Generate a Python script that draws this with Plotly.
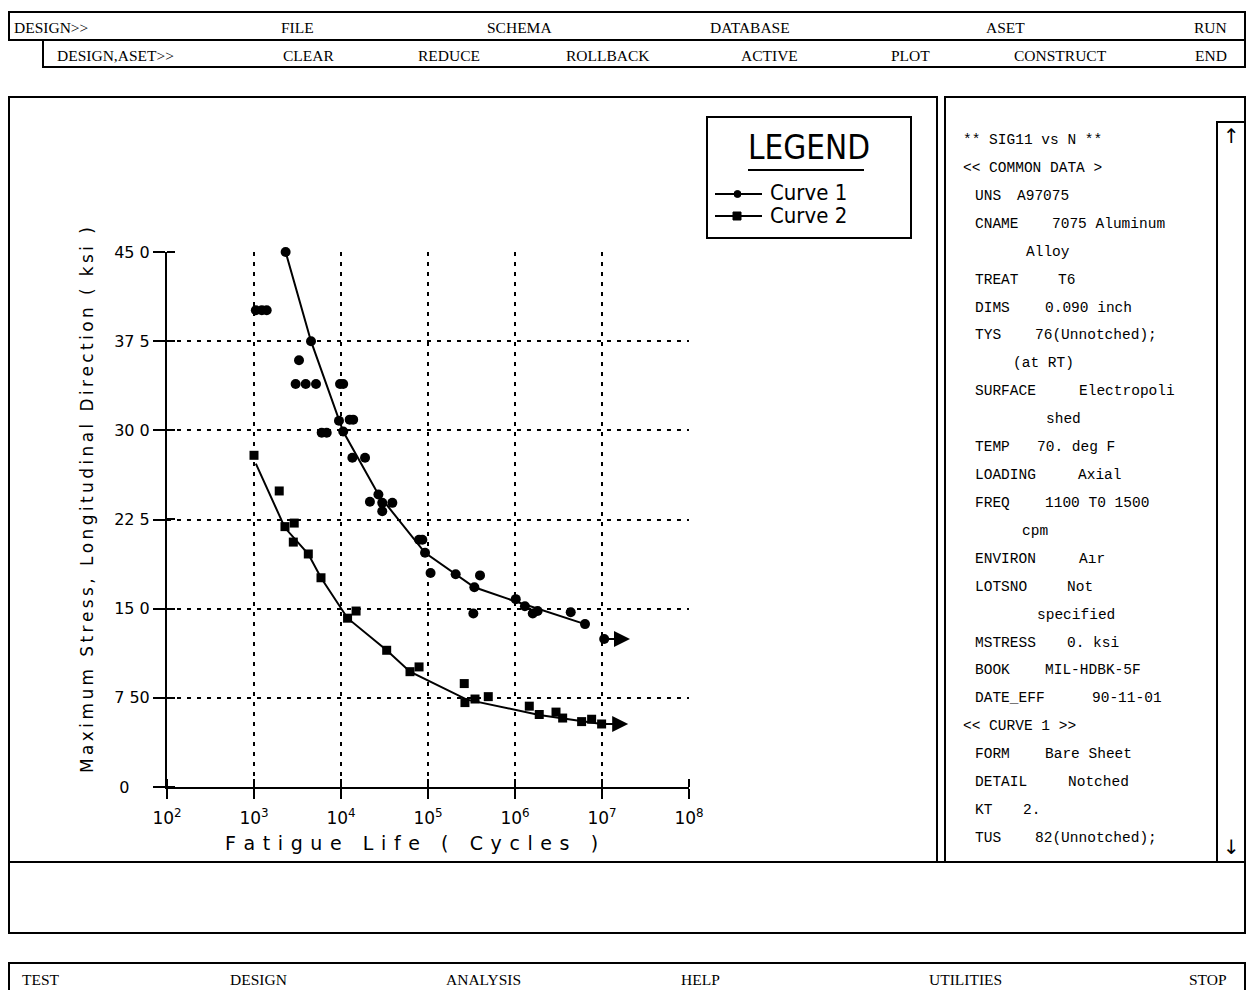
import math
import plotly.graph_objects as go

# ---------------- data ----------------
c1_N = [1050, 1230, 1400, 2310, 4520, 3290, 3010, 3930, 5160, 9750, 10600, 9480,
        12600, 13800, 6000, 6850, 10600, 13500, 18900, 26900, 21500, 29800, 38900,
        29800, 78900, 86100, 92500, 107000, 208000, 396000, 341000, 332000,
        1.02e6, 1.30e6, 1.60e6, 1.82e6, 4.37e6, 6.38e6]
c1_S = [40.1, 40.1, 40.1, 45.0, 37.5, 35.9, 33.9, 33.9, 33.9, 33.9, 33.9, 30.8,
        30.9, 30.9, 29.8, 29.8, 29.9, 27.7, 27.7, 24.6, 24.0, 23.9, 23.9,
        23.2, 20.8, 20.8, 19.7, 18.0, 17.9, 17.8, 16.8, 14.6,
        15.8, 15.2, 14.6, 14.8, 14.7, 13.7]
c1_fit_N = [2310, 4520, 10600, 26900, 92500, 341000, 1.02e6, 6.38e6]
c1_fit_S = [45.0, 37.5, 29.9, 24.6, 19.7, 16.8, 15.6, 13.7]
c1_run_N = [1.06e7]
c1_run_S = [12.45]
c1_run_end = [2.1e7]

c2_N = [1000, 1950, 2270, 2900, 2830, 4210, 5890, 11900, 14900, 33500, 62100, 78900,
        261000, 266000, 347000, 493000, 1.46e6, 1.90e6, 2.96e6, 3.53e6, 5.83e6,
        7.60e6]
c2_S = [27.9, 24.9, 21.9, 22.2, 20.6, 19.6, 17.6, 14.2, 14.8, 11.5, 9.7, 10.1,
        8.7, 7.1, 7.4, 7.6, 6.8, 6.1, 6.3, 5.8, 5.5, 5.7]
c2_fit_N = [1050, 2270, 4210, 5890, 11900, 33500, 62100, 280000, 1.90e6, 9.9e6]
c2_fit_S = [27.2, 21.8, 19.6, 17.6, 14.2, 11.5, 9.7, 7.35, 6.06, 5.3]
c2_run_N = [9.9e6]
c2_run_S = [5.3]
c2_run_end = [2.0e7]

y_tickvals = [0, 7.5, 15, 22.5, 30, 37.5, 45]
y_ticktext = ["0\u00a0\u00a0\u00a0\u00a0", "7 50", "15 0", "22 5", "30 0", "37 5", "45 0"]
x_tickvals = [1e2, 1e3, 1e4, 1e5, 1e6, 1e7, 1e8]
x_ticktext = ["10<sup>%d</sup>" % e for e in range(2, 9)]

x_title = "Fatigue Life ( Cycles )"
y_title = "Maximum Stress, Longitudinal Direction ( ksi )"

menu_top = [("DESIGN>>", 12, "left"), ("FILE", 297, "center"), ("SCHEMA", 519, "center"),
            ("DATABASE", 750, "center"), ("ASET", 1005, "center"), ("RUN", 1229, "right")]
menu_sub = [("DESIGN,ASET>>", 55, "left"), ("CLEAR", 308, "center"), ("REDUCE", 449, "center"),
            ("ROLLBACK", 608, "center"), ("ACTIVE", 769, "center"), ("PLOT", 910, "center"),
            ("CONSTRUCT", 1060, "center"), ("END", 1229, "right")]
menu_bottom = [("TEST", 20, "left"), ("DESIGN", 258, "center"), ("ANALYSIS", 483, "center"),
               ("HELP", 700, "center"), ("UTILITIES", 965, "center"), ("STOP", 1229, "right")]

panel_rows = [
    ("** SIG11 vs N **", "", 961, 0),
    ("<< COMMON DATA >", "", 961, 0),
    ("UNS", "A97075", 973, 1015),
    ("CNAME", "7075 Aluminum", 973, 1050),
    ("", "Alloy", 0, 1024),
    ("TREAT", "T6", 973, 1056),
    ("DIMS", "0.090 inch", 973, 1043),
    ("TYS", "76(Unnotched);", 973, 1033),
    ("", "(at RT)", 0, 1011),
    ("SURFACE", "Electropoli", 973, 1077),
    ("", "shed", 0, 1044),
    ("TEMP", "70. deg F", 973, 1035),
    ("LOADING", "Axial", 973, 1076),
    ("FREQ", "1100 T0 1500", 973, 1043),
    ("", "cpm", 0, 1020),
    ("ENVIRON", "Aır", 973, 1077),
    ("LOTSNO", "Not", 973, 1065),
    ("", "specified", 0, 1035),
    ("MSTRESS", "0. ksi", 973, 1065),
    ("BOOK", "MIL-HDBK-5F", 973, 1043),
    ("DATE_EFF", "90-11-01", 973, 1090),
    ("<< CURVE 1 >>", "", 961, 0),
    ("FORM", "Bare Sheet", 973, 1043),
    ("DETAIL", "Notched", 973, 1066),
    ("KT", "2.", 973, 1021),
    ("TUS", "82(Unnotched);", 973, 1033),
]

# ---------------- layout helpers (reference pixel -> paper) ----------------
W, H = 1248, 990
L, R, T, B = 167, 689, 252, 787
RIGHT_EDGE = 1245


def px(x):
    return (x - L) / (R - L)


def py(y):
    return (B - y) / (B - T)


BLACK = "black"
fig = go.Figure()

fig.add_trace(go.Scatter(x=c1_fit_N, y=c1_fit_S, mode="lines",
                         line=dict(color=BLACK, width=2), showlegend=False,
                         cliponaxis=False, hoverinfo="skip"))
fig.add_trace(go.Scatter(x=c2_fit_N, y=c2_fit_S, mode="lines",
                         line=dict(color=BLACK, width=2), showlegend=False,
                         cliponaxis=False, hoverinfo="skip"))
fig.add_trace(go.Scatter(x=c1_N, y=c1_S, mode="markers", name="Curve 1",
                         marker=dict(symbol="circle", size=10, color=BLACK),
                         showlegend=False, cliponaxis=False))
fig.add_trace(go.Scatter(x=c2_N, y=c2_S, mode="markers", name="Curve 2",
                         marker=dict(symbol="square", size=9, color=BLACK),
                         showlegend=False, cliponaxis=False))
fig.add_trace(go.Scatter(x=c1_run_N, y=c1_run_S, mode="markers",
                         marker=dict(symbol="circle", size=10, color=BLACK),
                         showlegend=False, cliponaxis=False))
fig.add_trace(go.Scatter(x=c2_run_N, y=c2_run_S, mode="markers",
                         marker=dict(symbol="square", size=9, color=BLACK),
                         showlegend=False, cliponaxis=False))

annotations = []
for n0, s0, n1 in list(zip(c1_run_N, c1_run_S, c1_run_end)) + list(zip(c2_run_N, c2_run_S, c2_run_end)):
    annotations.append(dict(x=math.log10(n1), y=s0, ax=math.log10(n0), ay=s0,
                            xref="x", yref="y", axref="x", ayref="y", text="",
                            showarrow=True, arrowhead=2, arrowsize=1.6,
                            arrowwidth=2, arrowcolor=BLACK))

grid = dict(showgrid=True, gridcolor=BLACK, gridwidth=2, griddash="4px,6px")
# inner half of the crossing tick marks (minor ticks a hair off the major ones)
x_minor = [v * 1.0005 for v in x_tickvals]
y_minor = [v + 0.002 for v in y_tickvals]

fig.update_layout(
    width=W, height=H,
    margin=dict(l=L, r=W - R, t=T, b=H - B, pad=0),
    paper_bgcolor="white", plot_bgcolor="white",
    showlegend=False,
    xaxis=dict(type="log", range=[2, 8], tickmode="array", tickvals=x_tickvals,
               ticktext=x_ticktext, ticks="outside", ticklen=10, tickwidth=2,
               tickcolor=BLACK, showline=True, linecolor=BLACK, linewidth=2,
               zeroline=False, tickfont=dict(family="DejaVu Sans", size=17, color=BLACK),
               ticklabelstandoff=5,
               minor=dict(tickmode="array", tickvals=x_minor, ticks="inside", ticklen=8,
                          tickwidth=2, tickcolor=BLACK, showgrid=False),
               **grid),
    yaxis=dict(range=[0, 45], tickmode="array", tickvals=y_tickvals,
               ticktext=y_ticktext, ticks="outside", ticklen=12, tickwidth=2,
               tickcolor=BLACK, showline=True, linecolor=BLACK, linewidth=2,
               zeroline=False, tickfont=dict(family="DejaVu Sans", size=16, color=BLACK),
               ticklabelstandoff=0,
               minor=dict(tickmode="array", tickvals=y_minor, ticks="inside", ticklen=8,
                          tickwidth=2, tickcolor=BLACK, showgrid=False),
               **grid),
)

# axis titles (letter-spaced like the plotter font)
spaced_x = "\u2009\u2009".join(list(x_title))
spaced_y = "\u2009".join(list(y_title))
annotations.append(dict(x=px(411), y=py(843), xref="paper", yref="paper", text=spaced_x,
                        showarrow=False, xanchor="center", yanchor="middle",
                        font=dict(family="DejaVu Sans", size=19, color=BLACK)))
annotations.append(dict(x=px(87), y=py(500), xref="paper", yref="paper", text=spaced_y,
                        showarrow=False, textangle=-90, xanchor="center", yanchor="middle",
                        font=dict(family="DejaVu Sans", size=17, color=BLACK)))

shapes = []


def rect(x0, y0, x1, y1, w=2):
    shapes.append(dict(type="rect", xref="paper", yref="paper", x0=px(x0), x1=px(x1),
                       y0=py(y0), y1=py(y1), line=dict(color=BLACK, width=w)))


def seg(x0, y0, x1, y1, w=2):
    shapes.append(dict(type="line", xref="paper", yref="paper", x0=px(x0), x1=px(x1),
                       y0=py(y0), y1=py(y1), line=dict(color=BLACK, width=w)))


def text(s, x, y, anchor="left", size=14, family="Liberation Serif", **kw):
    annotations.append(dict(x=px(x), y=py(y), xref="paper", yref="paper", text=s,
                            showarrow=False, xanchor=anchor, yanchor="middle",
                            font=dict(family=family, size=size, color=BLACK), **kw))


# UI frames
rect(9, 12, RIGHT_EDGE, 40)
rect(43, 40, RIGHT_EDGE, 67)
rect(9, 97, 937, 862)
rect(945, 97, RIGHT_EDGE, 862)
rect(1217, 122, RIGHT_EDGE, 862)
rect(9, 862, RIGHT_EDGE, 933)
rect(9, 963, RIGHT_EDGE, 996)

for s, x, a in menu_top:
    text(s, x, 27, a, size=15.5)
for s, x, a in menu_sub:
    text(s, x, 55, a, size=15.5)
for s, x, a in menu_bottom:
    text(s, x, 980, a, size=15.5)

for i, (k, v, kx, vx) in enumerate(panel_rows):
    yy = 140 + i * 27.92
    if k:
        text(k, kx, yy, "left", size=14.5, family="Liberation Mono")
    if v:
        text(v, vx, yy, "left", size=14.5, family="Liberation Mono")
text("\u2191", 1231, 136, "center", size=20, family="DejaVu Sans")
text("\u2193", 1231, 847, "center", size=20, family="DejaVu Sans")

# legend box
rect(707, 117, 911, 238)
text("LEGEND", 809, 147, "center", size=33, family="DejaVu Sans Condensed")
seg(748, 170, 864, 170)
seg(715, 194, 762, 194)
shapes.append(dict(type="circle", xref="paper", yref="paper", x0=px(734), x1=px(741),
                   y0=py(190.5), y1=py(197.5), fillcolor=BLACK, line=dict(color=BLACK, width=1)))
text("Curve 1", 768, 192, "left", size=22, family="DejaVu Sans Condensed")
seg(715, 216, 762, 216)
shapes.append(dict(type="rect", xref="paper", yref="paper", x0=px(733), x1=px(741),
                   y0=py(212), y1=py(220), fillcolor=BLACK, line=dict(color=BLACK, width=1)))
text("Curve 2", 768, 215, "left", size=22, family="DejaVu Sans Condensed")

fig.update_layout(shapes=shapes, annotations=annotations)
fig.write_html("out.html", config={"displayModeBar": False},
               post_script="document.body.style.margin='0';"
                           "document.body.style.overflow='hidden';")
